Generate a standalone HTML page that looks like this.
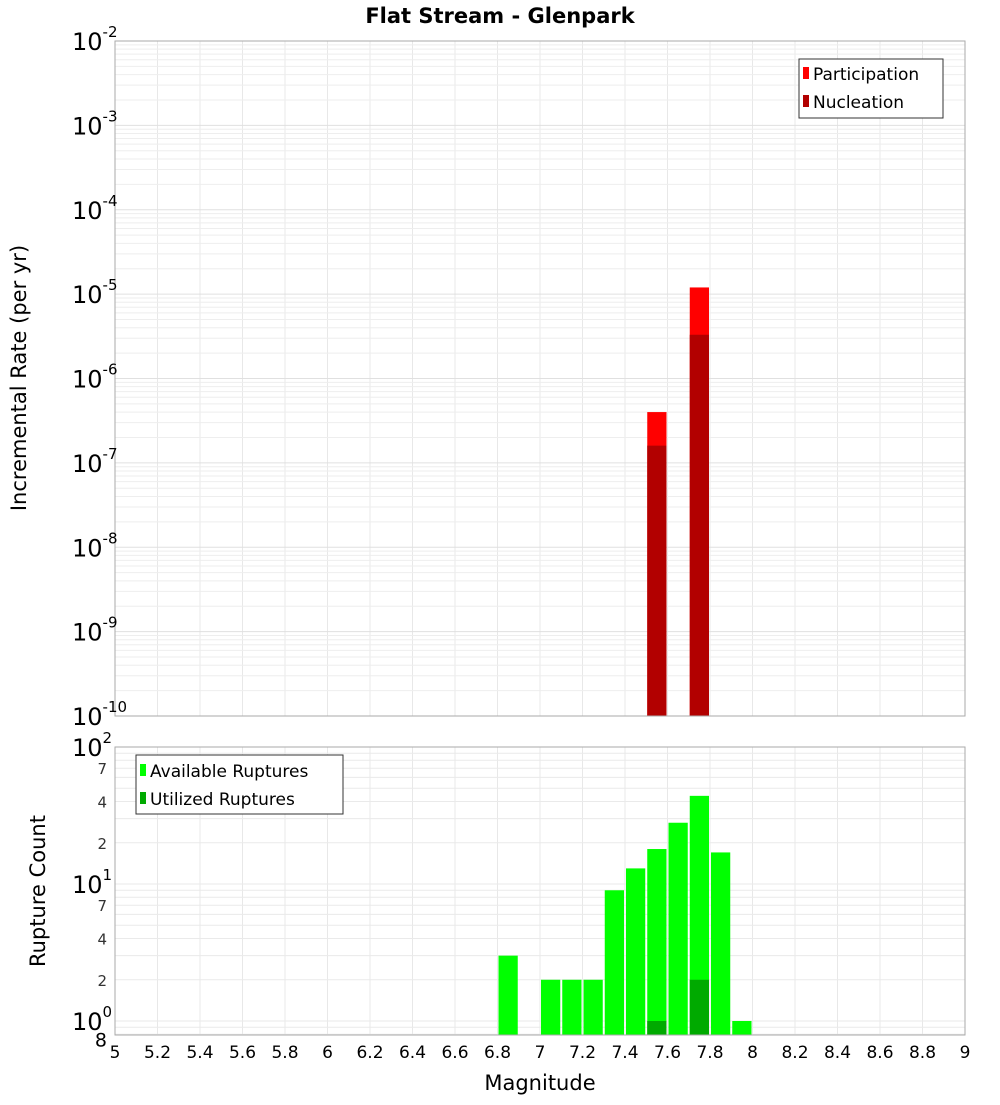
<!DOCTYPE html>
<html><head><meta charset="utf-8"><style>
body{margin:0;background:#fff;}
svg text{font-family:"DejaVu Sans","Liberation Sans",sans-serif;}
</style></head><body>
<svg id="chart" width="1000" height="1100" xmlns="http://www.w3.org/2000/svg">
<text x="500" y="23" text-anchor="middle" font-size="21" font-weight="bold">Flat Stream - Glenpark</text>
<g id="top-grid"></g>
<g id="top-bars"></g>
<rect x="115" y="41" width="850" height="675" fill="none" stroke="#aaa"/>
<g id="top-yticks"></g>
<text transform="translate(26,378) rotate(-90)" text-anchor="middle" font-size="21">Incremental Rate (per yr)</text>
<g>
<rect x="799" y="59" width="144" height="59" fill="#fff" stroke="#333"/>
<rect x="803" y="67" width="6" height="12" fill="#ff0000"/>
<text x="813" y="80" font-size="17">Participation</text>
<rect x="803" y="95" width="6" height="12" fill="#b20000"/>
<text x="813" y="108" font-size="17">Nucleation</text>
</g>
<g id="bot-grid"></g>
<g id="bot-bars"></g>
<rect x="115" y="747" width="850" height="288" fill="none" stroke="#aaa"/>
<g id="bot-yticks"></g>
<g id="xticks"></g>
<text transform="translate(45,891) rotate(-90)" text-anchor="middle" font-size="21">Rupture Count</text>
<text x="540" y="1090" text-anchor="middle" font-size="21">Magnitude</text>
<g>
<rect x="136" y="755" width="207" height="59" fill="#fff" stroke="#333"/>
<rect x="140" y="764" width="6" height="12" fill="#00ff00"/>
<text x="150" y="777" font-size="17">Available Ruptures</text>
<rect x="140" y="792" width="6" height="12" fill="#00aa00"/>
<text x="150" y="805" font-size="17">Utilized Ruptures</text>
</g>
</svg>
<script>
const rateMags=[7.55,7.75];
const participation=[4.0e-7,1.2e-5];
const nucleation=[1.6e-7,3.3e-6];
const countMags=[6.85,7.05,7.15,7.25,7.35,7.45,7.55,7.65,7.75,7.85,7.95];
const available=[3,2,2,2,9,13,18,28,44,17,1];
const utilizedMags=[7.55,7.75];
const utilized=[1,2];
const xTicks=[5,5.2,5.4,5.6,5.8,6,6.2,6.4,6.6,6.8,7,7.2,7.4,7.6,7.8,8,8.2,8.4,8.6,8.8,9];
const topDecades=[-2,-3,-4,-5,-6,-7,-8,-9,-10];
const botDecades=[2,1,0];
const botMinor=[7,4,2];

const NS="http://www.w3.org/2000/svg";
function mk(p,t,a){const e=document.createElementNS(NS,t);for(const k in a)e.setAttribute(k,a[k]);document.getElementById(p).appendChild(e);return e;}
const X=m=>115+(m-5)*212.5;
const YT=v=>41+(-2-Math.log10(v))*84.375;
const YB=v=>747+(2-Math.log10(v))*137;
xTicks.forEach(t=>{
 const g1=mk('top-grid','line',{x1:X(t),x2:X(t),y1:41,y2:716,stroke:'#e8e8e8'});
 
 
 const g2=mk('bot-grid','line',{x1:X(t),x2:X(t),y1:747,y2:1035,stroke:'#e8e8e8'});
 
 
 const tl=mk('xticks','text',{x:X(t),y:1058,'text-anchor':'middle','font-size':17});
 
 
 tl.textContent=String(t);
});
topDecades.forEach(d=>{
 for(let k=1;k<10;k++){const v=Math.pow(10,d)*k;const y=YT(v);if(y<41||y>716)continue;
  const l=mk('top-grid','line',{x1:115,x2:965,y1:y,y2:y,stroke:k==1?'#e0e0e0':'#eeeeee'});
  
  }
 const y=YT(Math.pow(10,d));
 const t=mk('top-yticks','text',{x:72,y:y+9,'font-size':24});
 
 
 t.innerHTML='10<tspan dy="-13" font-size="15">'+d+'</tspan>';
});
for(let d=-1;d<2;d++){for(let k=1;k<10;k++){const v=Math.pow(10,d)*k;const y=YB(v);if(y<747||y>1035)continue;
 const l=mk('bot-grid','line',{x1:115,x2:965,y1:y,y2:y,stroke:'#eaeaea'});
 
 }}
botDecades.forEach(d=>{
 const y=YB(Math.pow(10,d));
 const t=mk('bot-yticks','text',{x:72,y:y+9,'font-size':24});
 
 
 t.innerHTML='10<tspan dy="-13" font-size="15">'+d+'</tspan>';
 if(d>0)botMinor.forEach(k=>{const yy=YB(Math.pow(10,d-1)*k);
  const m=mk('bot-yticks','text',{x:107,y:yy+6,'text-anchor':'end','font-size':15,fill:'#333'});
  
  
  m.textContent=k;});
});
const e8=mk('bot-yticks','text',{x:107,y:YB(0.8)+12,'text-anchor':'end','font-size':19});


e8.textContent='8';
function bar(g,m,v,col,yf,base){const x0=X(m-0.05)+1,x1=X(m+0.05)-1;const y=yf(v);
 const r=mk(g,'rect',{x:x0,y:y,width:x1-x0,height:base-y,fill:col});return r;}
rateMags.forEach((m,i)=>{
 const r=bar('top-bars',m,participation[i],'#ff0000',YT,716);
 
 
 const n=bar('top-bars',m,nucleation[i],'#b20000',YT,716);
 
 
});
countMags.forEach((m,i)=>{
 const r=bar('bot-bars',m,available[i],'#00ff00',YB,1035);
 
 
});
utilizedMags.forEach((m,i)=>{
 const r=bar('bot-bars',m,utilized[i],'#00aa00',YB,1035);
 
 
});
</script>
</body></html>
